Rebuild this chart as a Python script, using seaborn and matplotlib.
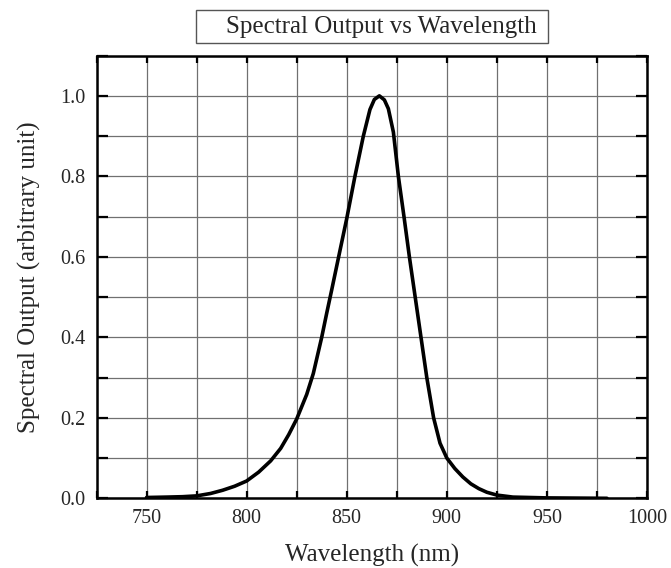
import numpy as np
import pandas as pd
import matplotlib
matplotlib.use("Agg")
import matplotlib.pyplot as plt
from matplotlib.patches import Rectangle
from matplotlib.ticker import MultipleLocator, FormatStrFormatter
import seaborn as sns

wavelength = [750, 760, 768, 775, 782, 788, 794, 800, 806, 812, 817, 821, 825,
              830, 833.3, 837.5, 840, 842.5, 846.6, 850, 854.1, 858.3, 861.6,
              863.8, 866.3, 868.8, 870.8, 873.3, 875.8, 878.6, 881.3, 884.2,
              887.1, 890, 893.4, 896.6, 900, 904, 908, 912, 916, 920, 925, 933,
              950, 965, 980]
output = [0.002, 0.003, 0.004, 0.006, 0.012, 0.020, 0.030, 0.043, 0.065, 0.093,
          0.124, 0.158, 0.197, 0.258, 0.310, 0.40, 0.46, 0.518, 0.615, 0.695,
          0.80, 0.90, 0.966, 0.991, 1.0, 0.99, 0.968, 0.91, 0.80, 0.70, 0.60,
          0.50, 0.40, 0.30, 0.20, 0.137, 0.10, 0.074, 0.053, 0.036, 0.024,
          0.015, 0.008, 0.003, 0.001, 0.0005, 0.0]

title = "Spectral Output vs Wavelength"
xlabel = "Wavelength (nm)"
ylabel = "Spectral Output (arbitrary unit)"

df = pd.DataFrame({"wl": wavelength, "out": output})

sns.set_theme(style="white")
plt.rcParams["font.family"] = ["Liberation Serif", "DejaVu Serif"]

W, H = 671, 568
fig = plt.figure(figsize=(W / 100, H / 100), dpi=100)
ax = fig.add_axes([96.5 / W, 1 - 498.3 / H, (647 - 96.5) / W, (498.3 - 55.6) / H])

sns.lineplot(data=df, x="wl", y="out", ax=ax, color="black", linewidth=2.6,
             estimator=None, sort=False, zorder=5)
ax.lines[0].set_solid_joinstyle("round")

ax.set_xlim(725, 1000)
ax.set_ylim(0, 1.1)
ax.xaxis.set_major_locator(MultipleLocator(50))
ax.xaxis.set_minor_locator(MultipleLocator(25))
ax.yaxis.set_major_locator(MultipleLocator(0.2))
ax.yaxis.set_minor_locator(MultipleLocator(0.1))
ax.yaxis.set_major_formatter(FormatStrFormatter("%.1f"))

ax.grid(True, which="both", color="#707070", linewidth=0.9)
ax.set_axisbelow(True)
ax.tick_params(which="both", direction="in", top=True, right=True,
               bottom=True, left=True, width=1.6, color="black",
               labelsize=14.5)
ax.tick_params(axis="x", which="both", length=5, pad=8)
ax.tick_params(axis="y", which="both", length=8, pad=8)
for s in ax.spines.values():
    s.set_color("black")
    s.set_linewidth(1.8)

ax.set_xlabel(xlabel, fontsize=18, labelpad=11)
ax.set_ylabel(ylabel, fontsize=18, labelpad=14)

# title box
x0, y0, x1, y1 = 196, 10, 548, 43
fig.patches.append(Rectangle((x0 / W, 1 - y1 / H), (x1 - x0) / W, (y1 - y0) / H,
                             transform=fig.transFigure, fill=False,
                             edgecolor="#555555", linewidth=1.0))
fig.text(381 / W, 1 - 27 / H, title, fontsize=18, ha="center", va="center")

fig.savefig("out.png", dpi=100)
